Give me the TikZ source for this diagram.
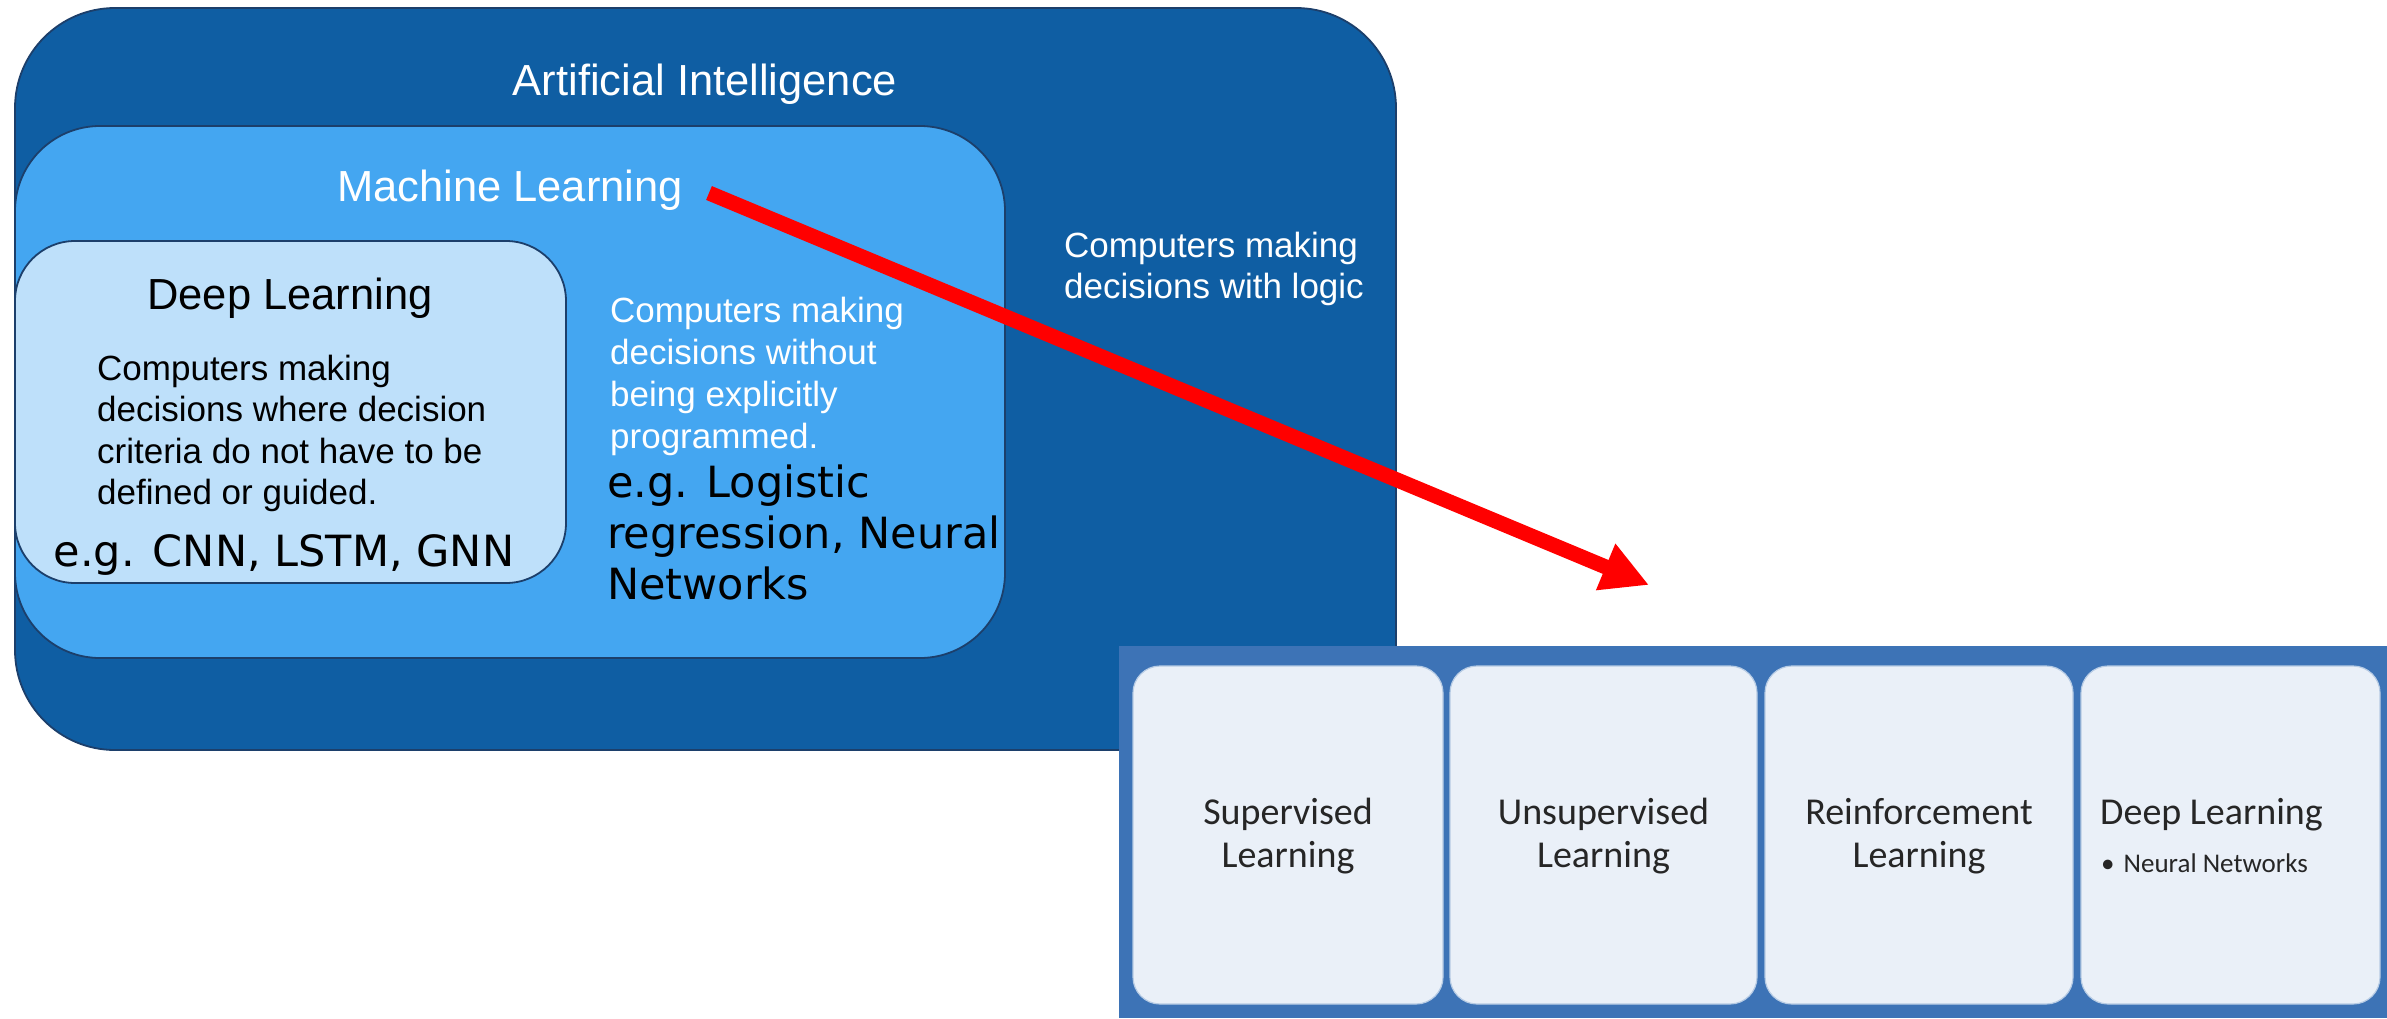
\documentclass[tikz,border=0pt]{standalone}
\usepackage{fontspec}
\setmainfont{Liberation Sans}
\newfontfamily\exfont{DejaVu Sans}
\newfontfamily\panelfont{Carlito}
\usetikzlibrary{arrows.meta}

\definecolor{aiblue}{HTML}{0F5EA3}
\definecolor{mlblue}{HTML}{44A6F1}
\definecolor{dlblue}{HTML}{BEE0FA}
\definecolor{edgeblue}{HTML}{1C3F6B}
\definecolor{stripblue}{HTML}{3D73B6}
\definecolor{cardfill}{HTML}{EAF0F8}
\definecolor{cardtext}{HTML}{262626}
\definecolor{arrowred}{HTML}{FF0000}

\begin{document}
\begin{tikzpicture}[x=1pt,y=-1pt,
  region/.style={draw=edgeblue, line width=1.8pt},
  heading/.style={anchor=base, inner sep=0pt, font=\fontsize{43.5}{52}\selectfont},
  desc/.style={anchor=base west, inner sep=0pt, font=\fontsize{35}{42}\selectfont},
  example/.style={inner sep=0pt, font=\exfont\fontsize{43}{51}\selectfont},
  card/.style={fill=cardfill, draw=cardfill!70!stripblue, line width=1.2pt, rounded corners=27pt},
  cardlabel/.style={anchor=base, inner sep=0pt, text=cardtext, font=\panelfont\fontsize{38}{44}\selectfont},
  pointer/.style={draw=arrowred, line width=15pt, -{Triangle[length=47pt,width=47pt]}}
]
\useasboundingbox (0,0) rectangle (2387,1018);
\fill[white] (0,0) rectangle (2387,1018);

% nested regions
\filldraw[region, fill=aiblue, rounded corners=100pt] (15,8) rectangle (1396,750);
\filldraw[region, fill=mlblue, rounded corners=85pt] (15,126) rectangle (1005,658);
\filldraw[region, fill=dlblue, rounded corners=60pt] (15,241) rectangle (566,583);

% Artificial Intelligence
\node[heading, text=white] (ai) at (705,95) {Artificial Intelligence};
\node[desc, text=white] (aid1) at (1064,257) {Computers making};
\node[desc, text=white] (aid2) at (1064,298) {decisions with logic};

% Machine Learning
\node[heading, text=white] (ml) at (510,201) {Machine Learning};
\node[desc, text=white] (mld1) at (610,322) {Computers making};
\node[desc, text=white] (mld2) at (610,364) {decisions without};
\node[desc, text=white] (mld3) at (610,406) {being explicitly};
\node[desc, text=white] (mld4) at (610,448) {programmed.};
\node[example, anchor=base west] (mle1) at (607,497) {e.g. Logistic};
\node[example, anchor=base west] (mle2) at (607,548) {regression, Neural};
\node[example, anchor=base west] (mle3) at (607,599) {Networks};

% Deep Learning
\node[heading, text=black] (dl) at (290,309) {Deep Learning};
\node[desc, text=black] (dld1) at (97,380) {Computers making};
\node[desc, text=black] (dld2) at (97,421.5) {decisions where decision};
\node[desc, text=black] (dld3) at (97,463) {criteria do not have to be};
\node[desc, text=black] (dld4) at (97,504.5) {defined or guided.};
\node[example, anchor=base] (dle) at (284,566) {e.g. CNN, LSTM, GNN};

% learning categories strip
\fill[stripblue] (1119,646) rectangle (2387,1018);
\draw[card] (1133,666) rectangle (1443,1004);
\draw[card] (1450,666) rectangle (1757,1004);
\draw[card] (1765,666) rectangle (2073,1004);
\draw[card] (2081,666) rectangle (2380,1004);

\node[cardlabel] (sup1) at (1288,824) {Supervised};
\node[cardlabel] (sup2) at (1288,867) {Learning};
\node[cardlabel] (uns1) at (1603.5,824) {Unsupervised};
\node[cardlabel] (uns2) at (1603.5,867) {Learning};
\node[cardlabel] (rei1) at (1919,824) {Reinforcement};
\node[cardlabel] (rei2) at (1919,867) {Learning};
\node[cardlabel, anchor=base west] (deep1) at (2100,824) {Deep Learning};
\node[cardlabel, anchor=base west, font=\panelfont\fontsize{27}{32}\selectfont] (deep2) at (2101,872) {\textbullet\hspace{9pt}Neural Networks};

% pointer from Machine Learning to the categories
\coordinate (arrowstart) at (709,193);
\coordinate (arrowtip) at (1649,585);
\draw[pointer] (arrowstart) -- (arrowtip);
\end{tikzpicture}
\end{document}
